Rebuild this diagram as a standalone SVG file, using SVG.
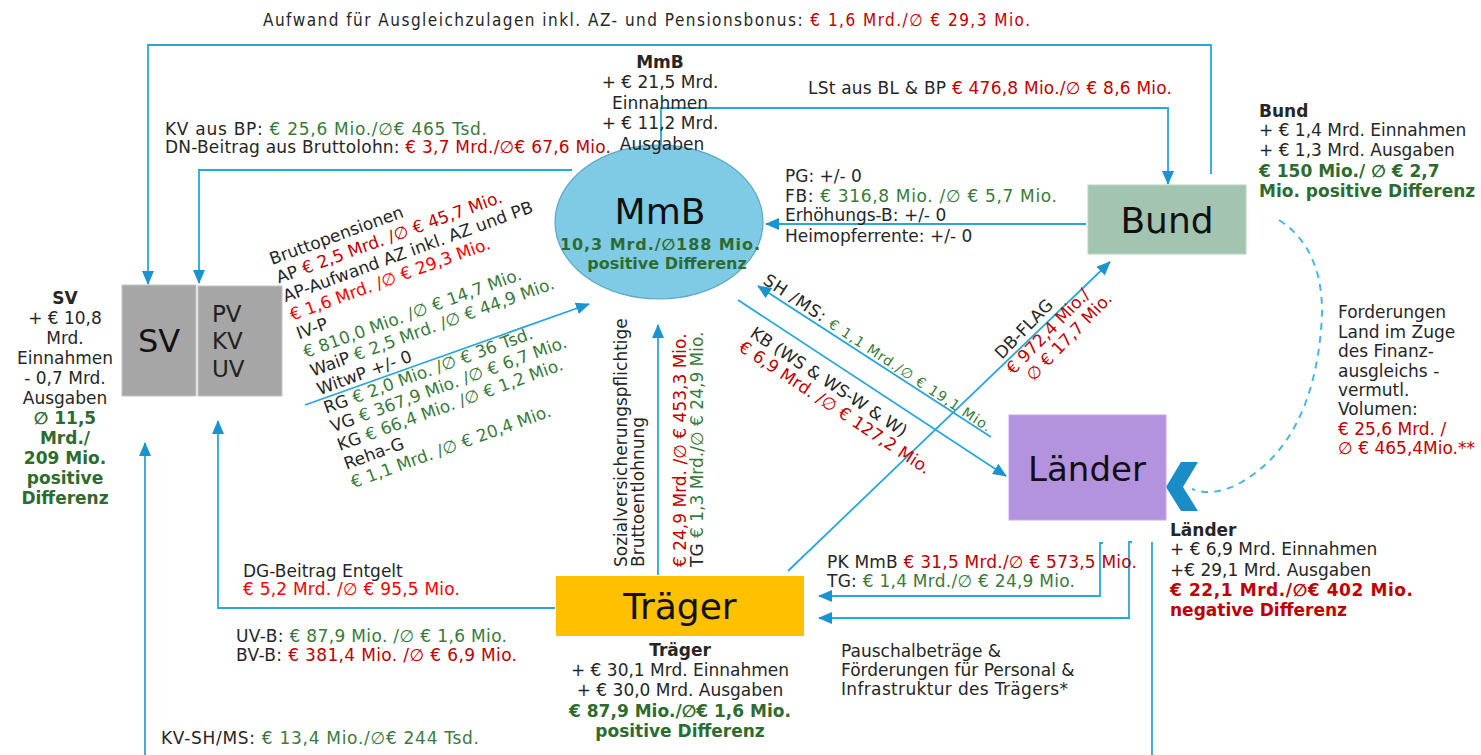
<svg xmlns="http://www.w3.org/2000/svg" width="1481" height="755" viewBox="0 0 1481 755">
<defs>
<style>
text{font-family:"DejaVu Sans",Verdana,sans-serif;font-size:17px;fill:#262626}
.c{font-family:"DejaVu Sans Condensed","DejaVu Sans",sans-serif}
.b{font-weight:bold}
.r{fill:#c00000}
.rr{fill:#ff0000}
.g{fill:#3a7a3a}
.gb{fill:#2e6b2e;font-weight:bold}
.rb{fill:#c00000;font-weight:bold}
.mid{text-anchor:middle}
.ln{fill:none;stroke:#29a6de;stroke-width:1.8}
.ar{marker-end:url(#ah)}
.big{font-size:36px;fill:#111}
</style>
<marker id="ah" markerWidth="14" markerHeight="12" refX="13" refY="6" orient="auto" markerUnits="userSpaceOnUse">
<path d="M0,0 L14,6 L0,12 z" fill="#1a94d1"/>
</marker>
</defs>
<rect width="1481" height="755" fill="#ffffff"/>

<g id="connectors">
<path class="ln ar" d="M1211,174 V45 H148 V284"/>
<path class="ln ar" d="M572,170 H199 V283"/>
<path class="ln ar" d="M661,146 V108 H1168 V184"/>
<path class="ln ar" d="M1086,224 H766"/>
<path class="ln ar" d="M305,405 L589,304"/>
<path class="ln ar" d="M991,437 L758,286"/>
<path class="ln ar" d="M738,300 L1006,476"/>
<path class="ln ar" d="M788,571 L1110,262"/>
<path class="ln ar" d="M658,575 V325"/>
<path class="ln ar" d="M555,608 H218 V421"/>
<path class="ln ar" d="M145,755 V443"/>
<path class="ln ar" d="M1103,543 H1100 V596 H819"/>
<path class="ln ar" d="M1132,542 H1129 V618 H819"/>
<path class="ln" d="M1152,542 V755"/>
<path d="M1279,220 C1318,245 1325,290 1321,330 C1315,400 1290,455 1240,483 C1222,493 1205,494 1192,489" fill="none" stroke="#4ab6e4" stroke-width="2" stroke-dasharray="7,6"/>
<polygon points="1181,462 1198,462 1183,487 1198,511 1181,511 1166,487" fill="#1a8cc8"/>
</g>

<g id="node-sv">
<rect x="122" y="285" width="74" height="111" fill="#a6a6a6" stroke="#c4c4c4" stroke-width="1"/>
<text x="159" y="352" class="mid" style="font-size:32px;fill:#111">SV</text>
</g>
<g id="node-pvkvuv">
<rect x="198" y="286" width="84" height="110" fill="#a6a6a6" stroke="#c4c4c4" stroke-width="1"/>
<text x="212" y="322" style="font-size:23px;fill:#222">PV</text>
<text x="212" y="349" style="font-size:23px;fill:#222">KV</text>
<text x="212" y="377" style="font-size:23px;fill:#222">UV</text>
</g>
<g id="node-mmb">
<ellipse cx="659" cy="222" rx="104" ry="77" fill="#7fcbe6" stroke="#5aa7c9" stroke-width="1.2"/>
<text x="660" y="224" class="mid big">MmB</text>
<text x="660" y="250" class="mid gb" style="font-size:16px" textLength="200">10,3 Mrd./∅188 Mio.</text>
<text x="667" y="269" class="mid gb" style="font-size:16px">positive Differenz</text>
</g>
<g id="node-bund">
<rect x="1088" y="185" width="158" height="69" fill="#a2c4b0" stroke="#b8d4c3" stroke-width="1"/>
<text x="1167" y="233" class="mid big">Bund</text>
</g>
<g id="node-laender">
<rect x="1009" y="415" width="157" height="105" fill="#b392de" stroke="#c4aae6" stroke-width="1"/>
<text x="1087" y="481" class="mid" style="font-size:34px;fill:#111">Länder</text>
</g>
<g id="node-traeger">
<rect x="556" y="576" width="248" height="60" fill="#ffc000"/>
<text x="680" y="619" class="mid big">Träger</text>
</g>

<g id="labels">
<text x="263" y="26" class="c" textLength="767">Aufwand für Ausgleichzulagen inkl. AZ- und Pensionsbonus:  <tspan class="r">€ 1,6 Mrd./∅ € 29,3 Mio.</tspan></text>

<text x="660" y="68" class="mid b">MmB</text>
<text x="660" y="88" class="mid">+ € 21,5 Mrd.</text>
<text x="660" y="109" class="mid">Einnahmen</text>
<text x="660" y="129" class="mid">+ € 11,2 Mrd.</text>
<text x="662" y="150" class="mid">Ausgaben</text>

<text x="808" y="94" textLength="364">LSt aus BL &amp; BP <tspan class="r">€ 476,8 Mio./∅ € 8,6 Mio.</tspan></text>

<text x="165" y="135" textLength="322">KV aus BP:  <tspan class="g">€ 25,6 Mio./∅€ 465 Tsd.</tspan></text>
<text x="165" y="153" textLength="446">DN-Beitrag aus Bruttolohn:  <tspan class="r">€ 3,7 Mrd./∅€ 67,6 Mio.</tspan></text>

<text x="1259" y="117" class="b">Bund</text>
<text x="1259" y="136">+ € 1,4 Mrd. Einnahmen</text>
<text x="1259" y="156">+ € 1,3 Mrd. Ausgaben</text>
<text x="1259" y="177" class="gb">€ 150 Mio./ ∅ € 2,7</text>
<text x="1259" y="197" class="gb">Mio. positive Differenz</text>

<text x="785" y="182">PG: +/- 0</text>
<text x="785" y="202" textLength="272">FB:  <tspan class="g">€ 316,8 Mio. /∅  € 5,7 Mio.</tspan></text>
<text x="785" y="221">Erhöhungs-B: +/- 0</text>
<text x="785" y="242">Heimopferrente: +/- 0</text>

<text x="1338" y="318">Forderungen</text>
<text x="1338" y="338">Land im Zuge</text>
<text x="1338" y="357">des Finanz-</text>
<text x="1338" y="377">ausgleichs -</text>
<text x="1338" y="396">vermutl.</text>
<text x="1338" y="415">Volumen:</text>
<text x="1338" y="435" class="r">€ 25,6 Mrd. /</text>
<text x="1338" y="454" class="r">∅ € 465,4Mio.**</text>

<text x="65" y="304" class="mid b">SV</text>
<text x="65" y="324" class="mid">+ € 10,8</text>
<text x="65" y="344" class="mid">Mrd.</text>
<text x="65" y="364" class="mid">Einnahmen</text>
<text x="65" y="384" class="mid">- 0,7 Mrd.</text>
<text x="65" y="404" class="mid">Ausgaben</text>
<text x="65" y="424" class="mid gb">∅ 11,5</text>
<text x="65" y="444" class="mid gb">Mrd./</text>
<text x="65" y="464" class="mid gb">209 Mio.</text>
<text x="65" y="484" class="mid gb">positive</text>
<text x="65" y="504" class="mid gb">Differenz</text>

<g transform="translate(272,265) rotate(-20)">
<text x="0" y="0">Bruttopensionen</text>
<text x="0" y="19.8">AP <tspan class="r">€ 2,5 Mrd. /∅ € 45,7 Mio.</tspan></text>
<text x="0" y="39.6">AP-Aufwand AZ inkl. AZ und PB</text>
<text x="0" y="59.4" class="rr">€ 1,6 Mrd. /∅ € 29,3 Mio.</text>
<text x="0" y="79.2">IV-P</text>
<text x="0" y="99" class="g">€ 810,0 Mio. /∅ € 14,7 Mio.</text>
<text x="0" y="118.8">WaiP  <tspan class="g">€ 2,5 Mrd. /∅  € 44,9 Mio.</tspan></text>
<text x="0" y="138.6">WitwP +/- 0</text>
<text x="0" y="158.4">RG <tspan class="g">€ 2,0 Mio. /∅ € 36 Tsd.</tspan></text>
<text x="0" y="178.2">VG <tspan class="g">€ 367,9 Mio. /∅ € 6,7 Mio.</tspan></text>
<text x="0" y="198">KG <tspan class="g">€ 66,4 Mio. /∅ € 1,2 Mio.</tspan></text>
<text x="0" y="217.8">Reha-G</text>
<text x="0" y="237.6" class="g">€ 1,1 Mrd. /∅ € 20,4 Mio.</text>
</g>

<g transform="translate(627,567) rotate(-90)">
<text x="0" y="0">Sozialversicherungspflichtige</text>
<text x="0" y="17">Bruttoentlohnung</text>
<text x="0" y="59" class="r">€ 24,9 Mrd. /∅  € 453,3 Mio.</text>
<text x="0" y="76">TG <tspan class="g">€ 1,3 Mrd./∅ € 24,9 Mio.</tspan></text>
</g>

<g transform="translate(762,283) rotate(33.5)">
<text x="0" y="0" textLength="270">SH /MS:  <tspan class="g" style="font-size:14px">€ 1,1 Mrd./∅ € 19,1 Mio.</tspan></text>
</g>
<g transform="translate(749,336) rotate(33.5)">
<text x="0" y="0">KB (WS &amp; WS-W &amp; W)</text>
<text x="-2" y="18" class="r" textLength="226">€ 6,9 Mrd. /∅ € 127,2 Mio.</text>
</g>
<g transform="translate(1002,360) rotate(-46)">
<text x="0" y="0">DB-FLAG</text>
<text x="-3" y="19" class="r">€ 972,4 Mio./</text>
<text x="6" y="38" class="r">∅ € 17,7 Mio.</text>
</g>

<text x="1170" y="536" class="b">Länder</text>
<text x="1170" y="555">+ € 6,9 Mrd. Einnahmen</text>
<text x="1170" y="576">+€ 29,1 Mrd. Ausgaben</text>
<text x="1170" y="596" class="rb" textLength="243">€ 22,1 Mrd./∅€ 402 Mio.</text>
<text x="1170" y="616" class="rb">negative Differenz</text>

<text x="827" y="568" textLength="310">PK MmB <tspan class="r">€ 31,5 Mrd./∅ € 573,5 Mio.</tspan></text>
<text x="827" y="587" textLength="248">TG: <tspan class="g">€ 1,4 Mrd./∅ € 24,9 Mio.</tspan></text>

<text x="841" y="657">Pauschalbeträge &amp;</text>
<text x="841" y="676">Förderungen für Personal &amp;</text>
<text x="841" y="695" textLength="227">Infrastruktur des Trägers*</text>

<text x="680" y="656" class="mid b">Träger</text>
<text x="680" y="676" class="mid">+ € 30,1 Mrd. Einnahmen</text>
<text x="680" y="696" class="mid">+ € 30,0 Mrd. Ausgaben</text>
<text x="680" y="717" class="mid gb">€ 87,9 Mio./∅€ 1,6 Mio.</text>
<text x="680" y="737" class="mid gb">positive Differenz</text>

<text x="243" y="577">DG-Beitrag Entgelt</text>
<text x="243" y="595" class="rr" textLength="217">€ 5,2 Mrd. /∅ € 95,5 Mio.</text>

<text x="236" y="642" textLength="271">UV-B: <tspan class="g">€ 87,9 Mio. /∅ € 1,6 Mio.</tspan></text>
<text x="236" y="661" textLength="281">BV-B: <tspan class="r">€ 381,4 Mio. /∅ € 6,9 Mio.</tspan></text>

<text x="161" y="744" textLength="318">KV-SH/MS: <tspan class="g">€ 13,4 Mio./∅€ 244 Tsd.</tspan></text>
</g>
</svg>
